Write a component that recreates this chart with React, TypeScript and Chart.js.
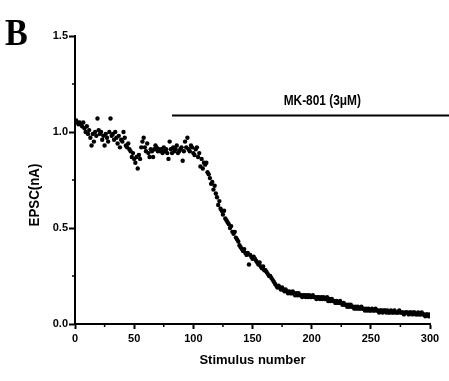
import { useEffect, useRef } from 'react';
import { Chart, registerables } from 'chart.js';

Chart.register(...registerables);

// EPSC amplitude (nA) per stimulus, stimuli 1-50
const baselineEarly = [
  1.06, 1.05, 1.04, 1.05, 1.04, 1.03, 1.05, 1.02, 1.0, 1.03,
  0.99, 1.01, 0.97, 0.93, 0.99, 0.95, 1.0, 0.98, 1.07, 1.01,
  0.99, 1.0, 0.96, 0.98, 0.93, 0.99, 0.97, 0.95, 1.0, 1.07,
  0.98, 0.99, 0.96, 1.0, 0.97, 0.94, 0.98, 0.92, 0.96, 0.95,
  1.0, 0.97, 0.93, 0.92, 0.94, 0.91, 0.9, 0.87, 0.89, 0.86,
];
// stimuli 51-100
const baselineLate = [
  0.84, 0.87, 0.81, 0.88, 0.86, 0.92, 0.95, 0.97, 0.92, 0.9,
  0.94, 0.89, 0.87, 0.91, 0.9, 0.87, 0.91, 0.93, 0.92, 0.9,
  0.91, 0.9, 0.91, 0.89, 0.92, 0.9, 0.91, 0.89, 0.86, 0.95,
  0.91, 0.89, 0.92, 0.9, 0.91, 0.93, 0.89, 0.9, 0.91, 0.92,
  0.85, 0.9, 0.95, 0.92, 0.97, 0.91, 0.9, 0.93, 0.92, 0.89,
];
// stimuli 101-160
const blockOnset = [
  0.88, 0.91, 0.92, 0.87, 0.89, 0.82, 0.86, 0.81, 0.84, 0.83,
  0.84, 0.79, 0.78, 0.76, 0.73, 0.74, 0.7, 0.72, 0.68, 0.66,
  0.62, 0.64, 0.6, 0.59, 0.57, 0.59, 0.55, 0.54, 0.53, 0.52,
  0.5, 0.51, 0.48, 0.47, 0.48, 0.45, 0.44, 0.43, 0.41, 0.4,
  0.39, 0.38, 0.39, 0.37, 0.36, 0.37, 0.31, 0.36, 0.35, 0.34,
  0.35, 0.34, 0.33, 0.32, 0.31, 0.32, 0.3, 0.29, 0.3, 0.28,
];
// stimuli 161-230
const blockMid = [
  0.28, 0.27, 0.26, 0.25, 0.25, 0.24, 0.23, 0.22, 0.21, 0.2,
  0.19, 0.2, 0.19, 0.18, 0.19, 0.18, 0.17, 0.18, 0.17, 0.16,
  0.17, 0.16, 0.16, 0.17, 0.16, 0.15, 0.16, 0.15, 0.16, 0.15,
  0.15, 0.14, 0.15, 0.15, 0.14, 0.15, 0.14, 0.15, 0.14, 0.14,
  0.15, 0.14, 0.14, 0.13, 0.14, 0.14, 0.13, 0.14, 0.13, 0.14,
  0.13, 0.13, 0.14, 0.12, 0.13, 0.12, 0.13, 0.12, 0.12, 0.11,
  0.12, 0.11, 0.11, 0.12, 0.11, 0.1, 0.11, 0.1, 0.1, 0.09,
];
// stimuli 231-300
const blockLate = [
  0.1, 0.09, 0.1, 0.09, 0.09, 0.08, 0.09, 0.08, 0.09, 0.08,
  0.08, 0.09, 0.08, 0.08, 0.07, 0.08, 0.07, 0.08, 0.07, 0.07,
  0.08, 0.07, 0.07, 0.08, 0.07, 0.07, 0.06, 0.07, 0.07, 0.06,
  0.07, 0.07, 0.06, 0.07, 0.06, 0.06, 0.07, 0.06, 0.06, 0.07,
  0.06, 0.06, 0.06, 0.07, 0.06, 0.06, 0.06, 0.05, 0.06, 0.06,
  0.06, 0.05, 0.06, 0.06, 0.05, 0.06, 0.06, 0.05, 0.05, 0.06,
  0.05, 0.05, 0.06, 0.05, 0.05, 0.04, 0.05, 0.05, 0.04, 0.05,
];

// MK-801 application bar: start/end stimulus and drawn level (nA)
const drugStart = 82;
const drugEnd = 330;
const drugLevel = 1.086;
const drugLabel = 'MK-801 (3\u03bcM)';
const drugLabelAt = 209;

const xTickValues = [0, 50, 100, 150, 200, 250, 300];
const yTickValues = [0, 0.5, 1.0, 1.5];
const xMinorTicks = [25, 75, 125, 175, 225, 275];
const yMinorTicks = [0.25, 0.75, 1.25];

const xTitle = 'Stimulus number';
const yTitle = 'EPSC(nA)';
const panelLetter = 'B';

const SANS = "'Liberation Sans', Arial, sans-serif";

// draws text squeezed horizontally to mimic a condensed face
function condensedText(ctx: CanvasRenderingContext2D, text: string, x: number, y: number, squeeze: number) {
  ctx.save();
  ctx.translate(x, y);
  ctx.scale(squeeze, 1);
  ctx.fillText(text, 0, 0);
  ctx.restore();
}

export default function App() {
  const canvasRef = useRef<HTMLCanvasElement | null>(null);

  useEffect(() => {
    const canvas = canvasRef.current;
    if (!canvas) return;

    const amplitudes = [...baselineEarly, ...baselineLate, ...blockOnset, ...blockMid, ...blockLate];
    const points = amplitudes.map((v, i) => ({ x: i + 1, y: v }));

    const decorations = {
      id: 'decorations',
      afterDraw(chart: any) {
        const { ctx } = chart;
        const xs = chart.scales.x;
        const ys = chart.scales.y;
        ctx.save();
        ctx.strokeStyle = '#000';
        ctx.fillStyle = '#000';
        ctx.lineWidth = 1.5;
        // minor ticks
        for (const v of yMinorTicks) {
          const py = ys.getPixelForValue(v);
          ctx.beginPath();
          ctx.moveTo(xs.left - 3, py);
          ctx.lineTo(xs.left, py);
          ctx.stroke();
        }
        for (const v of xMinorTicks) {
          const px = xs.getPixelForValue(v);
          ctx.beginPath();
          ctx.moveTo(px, ys.bottom);
          ctx.lineTo(px, ys.bottom + 3);
          ctx.stroke();
        }
        ctx.textAlign = 'center';
        ctx.textBaseline = 'middle';
        // y-axis title
        ctx.font = `bold 14px ${SANS}`;
        ctx.save();
        ctx.translate(35, 195);
        ctx.rotate(-Math.PI / 2);
        condensedText(ctx, yTitle, 0, 0, 0.95);
        ctx.restore();
        // drug label
        ctx.font = `bold 14px ${SANS}`;
        condensedText(ctx, drugLabel, xs.getPixelForValue(drugLabelAt), ys.getPixelForValue(drugLevel) - 14, 0.85);
        // panel letter
        ctx.font = "bold 38px 'Liberation Serif', 'Times New Roman', serif";
        ctx.textAlign = 'left';
        ctx.textBaseline = 'alphabetic';
        condensedText(ctx, panelLetter, 5, 45, 0.9);
        ctx.restore();
      },
    };

    const tickFont = { family: SANS, size: 11, weight: 'bold' as const };

    const chart = new Chart(canvas, {
      type: 'scatter',
      data: {
        datasets: [
          {
            data: points,
            backgroundColor: '#000',
            borderColor: '#000',
            pointRadius: 2.2,
            pointBorderWidth: 0,
          },
          {
            data: [
              { x: drugStart, y: drugLevel },
              { x: drugEnd, y: drugLevel },
            ],
            showLine: true,
            borderColor: '#000',
            borderWidth: 2,
            pointRadius: 0,
            clip: false as any,
          },
        ],
      },
      plugins: [decorations],
      options: {
        animation: false,
        responsive: false,
        devicePixelRatio: 1,
        layout: { padding: { left: 0, top: 36, right: 19, bottom: 9 } },
        plugins: {
          legend: { display: false },
          tooltip: { enabled: false },
        },
        scales: {
          x: {
            type: 'linear',
            min: 0,
            max: 300,
            afterFit(scale: any) {
              scale.height = 48;
            },
            afterBuildTicks(scale: any) {
              scale.ticks = xTickValues.map((v) => ({ value: v }));
            },
            ticks: {
              color: '#000',
              font: tickFont,
              padding: 3,
              maxRotation: 0,
              callback: (v: any) => String(v),
            },
            grid: {
              drawOnChartArea: false,
              tickLength: 5,
              tickWidth: 2,
              tickColor: '#000',
            },
            border: { display: true, width: 2, color: '#000' },
            title: {
              display: true,
              text: xTitle,
              color: '#000',
              font: { family: SANS, size: 13, weight: 'bold' },
              padding: { top: 0, bottom: 4 },
            },
          },
          y: {
            type: 'linear',
            min: 0,
            max: 1.5,
            afterFit(scale: any) {
              scale.width = 75;
            },
            afterBuildTicks(scale: any) {
              scale.ticks = yTickValues.map((v) => ({ value: v }));
            },
            ticks: {
              color: '#000',
              font: tickFont,
              padding: 1,
              callback: (v: any) => Number(v).toFixed(1),
            },
            grid: {
              drawOnChartArea: false,
              tickLength: 6,
              tickWidth: 2,
              tickColor: '#000',
            },
            border: { display: true, width: 2, color: '#000' },
          },
        },
      },
    });

    return () => chart.destroy();
  }, []);

  return (
    <div style={{ position: 'absolute', left: 0, top: 0, width: 449, height: 381, background: '#fff' }}>
      <canvas ref={canvasRef} width={449} height={381} style={{ display: 'block' }} />
    </div>
  );
}
